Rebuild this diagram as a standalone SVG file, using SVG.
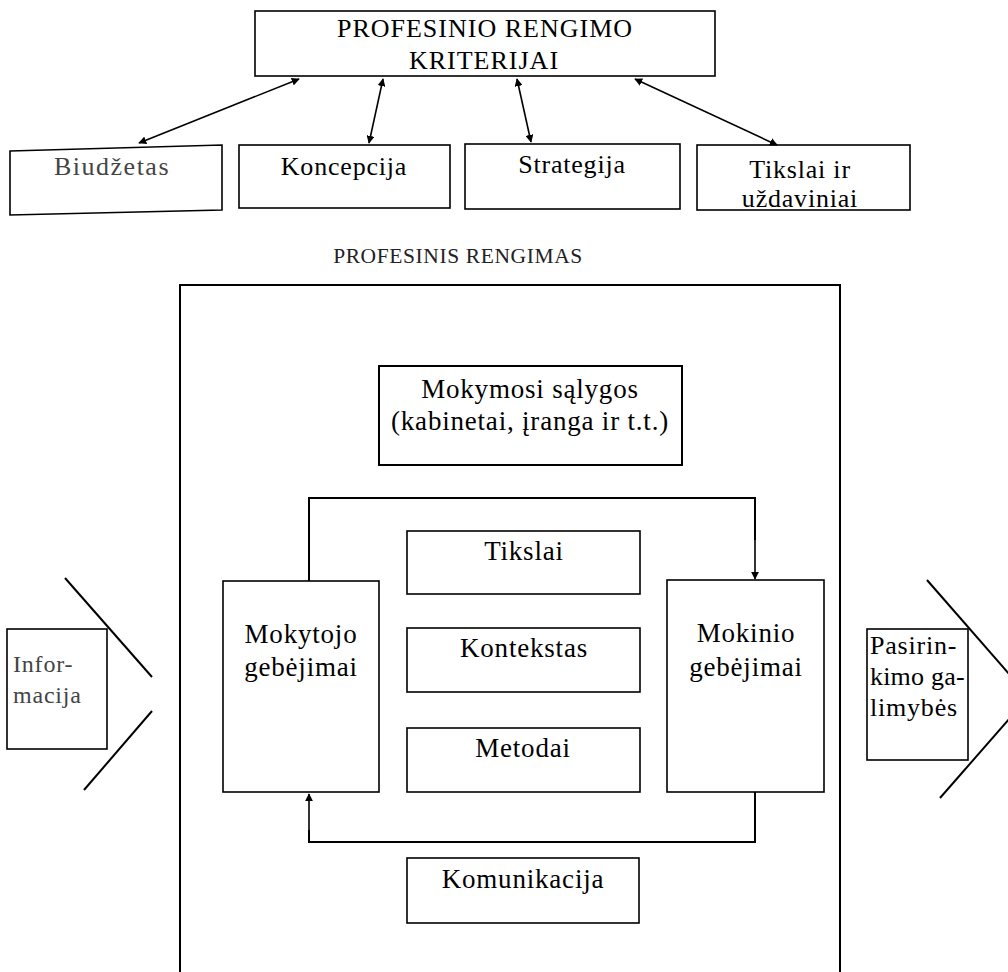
<svg xmlns="http://www.w3.org/2000/svg" width="1008" height="972" viewBox="0 0 1008 972">
<style>
.box{fill:none;stroke:#000;stroke-width:1.6}
.ln{fill:none;stroke:#000;stroke-width:2}
.t{font-family:"Liberation Serif","Times New Roman",serif;font-size:27px;letter-spacing:0.8px;fill:#000;text-anchor:middle}
.s{font-size:26px}
.l{text-anchor:start}
.lt{fill:#444}
</style>
<defs>
<marker id="ah" viewBox="0 0 10 10" refX="9" refY="5" markerWidth="8" markerHeight="8" markerUnits="userSpaceOnUse" orient="auto-start-reverse">
<path d="M0,0 L10,5 L0,10 z" fill="#000"/>
</marker>
</defs>
<rect width="1008" height="972" fill="#fff"/>

<g id="criteria">
<rect class="box" x="255" y="11" width="460" height="65"/>
<text class="t s" x="485" y="37" style="letter-spacing:1px">PROFESINIO RENGIMO</text>
<text class="t s" x="484" y="69" style="letter-spacing:1px">KRITERIJAI</text>
</g>

<g id="biudzetas">
<polygon class="box" points="10,151 222,145 222,210 10,215"/>
<text class="t s lt" x="112" y="175" style="letter-spacing:1.5px">Biudžetas</text>
</g>
<g id="koncepcija">
<rect class="box" x="239" y="145" width="211" height="63"/>
<text class="t s" x="344" y="175">Koncepcija</text>
</g>
<g id="strategija">
<rect class="box" x="465" y="144" width="215" height="65"/>
<text class="t s" x="572" y="173">Strategija</text>
</g>
<g id="tikslai-uzdaviniai">
<rect class="box" x="697" y="145" width="213" height="65"/>
<text class="t s" x="800" y="178">Tikslai ir</text>
<text class="t s" x="800" y="207">uždaviniai</text>
</g>

<g id="profesinis-rengimas">
<text class="t" x="458" y="263" style="font-size:21.5px;letter-spacing:0.6px;fill:#222">PROFESINIS RENGIMAS</text>
<path class="ln" d="M180,972 V285 H840 V972"/>
</g>

<g id="mokymosi-salygos">
<rect class="box" x="379" y="366" width="303" height="99" style="stroke-width:2"/>
<text class="t" x="530" y="398">Mokymosi sąlygos</text>
<text class="t" x="530" y="430">(kabinetai, įranga ir t.t.)</text>
</g>

<g id="tikslai">
<rect class="box" x="407" y="531" width="233" height="63"/>
<text class="t" x="524" y="560">Tikslai</text>
</g>
<g id="kontekstas">
<rect class="box" x="407" y="628" width="233" height="64"/>
<text class="t" x="524" y="657">Kontekstas</text>
</g>
<g id="metodai">
<rect class="box" x="407" y="728" width="233" height="64"/>
<text class="t" x="523" y="757">Metodai</text>
</g>
<g id="komunikacija">
<rect class="box" x="407" y="858" width="232" height="65"/>
<text class="t" x="523" y="888">Komunikacija</text>
</g>

<g id="mokytojo">
<rect class="box" x="223" y="581" width="156" height="211"/>
<text class="t" x="301" y="643">Mokytojo</text>
<text class="t" x="301" y="676">gebėjimai</text>
</g>
<g id="mokinio">
<rect class="box" x="667" y="580" width="157" height="212"/>
<text class="t" x="746" y="642">Mokinio</text>
<text class="t" x="746" y="676">gebėjimai</text>
</g>

<g id="informacija">
<rect class="box" x="7" y="629" width="100" height="120"/>
<text class="t l lt" x="13" y="672" style="font-size:24px">Infor-</text>
<text class="t l lt" x="13" y="703" style="font-size:24px">macija</text>
<line class="ln" x1="65" y1="578" x2="152" y2="677"/>
<line class="ln" x1="152" y1="711" x2="84" y2="790"/>
</g>

<g id="pasirinkimo">
<rect class="box" x="867" y="629" width="101" height="131"/>
<text class="t s l" x="870" y="654">Pasirin-</text>
<text class="t s l" x="870" y="685" style="letter-spacing:0.2px">kimo ga-</text>
<text class="t s l" x="870" y="716">limybės</text>
<line class="ln" x1="927" y1="580" x2="1010" y2="675"/>
<line class="ln" x1="1010" y1="718" x2="940" y2="798"/>
</g>

<g id="connectors">
<line class="box" x1="299" y1="79" x2="139" y2="143" marker-start="url(#ah)" marker-end="url(#ah)"/>
<line class="box" x1="383" y1="79" x2="369" y2="143" marker-start="url(#ah)" marker-end="url(#ah)"/>
<line class="box" x1="517" y1="79" x2="531" y2="142" marker-start="url(#ah)" marker-end="url(#ah)"/>
<line class="box" x1="635" y1="79" x2="777" y2="145" marker-start="url(#ah)" marker-end="url(#ah)"/>
<path class="ln" d="M309,581 V498 H755 V540"/>
<line class="box" x1="755" y1="538" x2="755" y2="579" marker-end="url(#ah)"/>
<path class="ln" d="M755,792 V842 H309 V830"/>
<line class="box" x1="309" y1="832" x2="309" y2="794" marker-end="url(#ah)"/>
</g>
</svg>
